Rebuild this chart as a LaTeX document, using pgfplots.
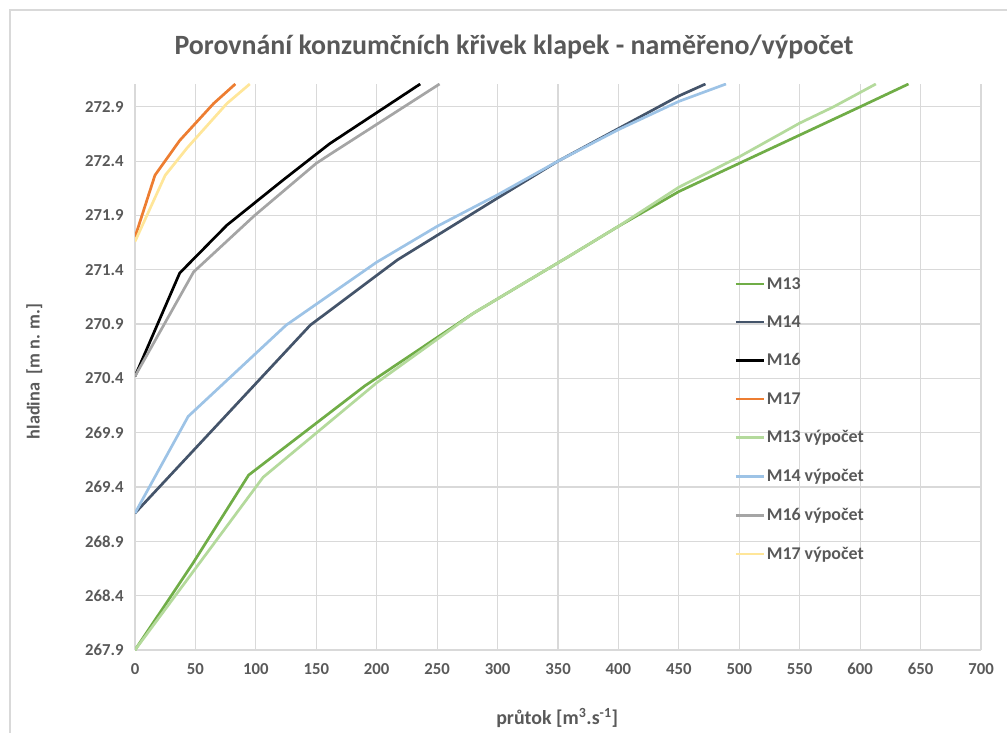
\documentclass[border=0pt]{standalone}
\usepackage{fontspec}
\setmainfont{Carlito}
\usepackage{pgfplots}
\pgfplotsset{compat=1.18}
\definecolor{txt}{HTML}{595959}
\definecolor{gridc}{HTML}{D9D9D9}
\definecolor{cA}{HTML}{70AD47}
\definecolor{cB}{HTML}{44546A}
\definecolor{cC}{HTML}{000000}
\definecolor{cD}{HTML}{ED7D31}
\definecolor{cE}{HTML}{B4DA9C}
\definecolor{cF}{HTML}{9DC3E6}
\definecolor{cG}{HTML}{A5A5A5}
\definecolor{cH}{HTML}{FFE699}
\begin{document}
\begin{tikzpicture}[x=1bp,y=1bp]
\path[use as bounding box] (0,0) rectangle (1007,-733);
\draw[gridc, line width=1.3bp] (10,-733) -- (10,-10) -- (1007,-10);
\node[txt, font=\bfseries\fontsize{28}{32}\selectfont] at (514,-47) {Porovnání konzumčních křivek klapek - naměřeno/výpočet};
\begin{axis}[
  at={(135bp,-650bp)}, anchor=south west,
  scale only axis, width=846bp, height=566bp,
  xmin=0, xmax=700, ymin=267.9, ymax=273.11,
  xtick={0,50,...,700},
  ytick={267.9,268.4,268.9,269.4,269.9,270.4,270.9,271.4,271.9,272.4,272.9},
  yticklabel style={/pgf/number format/fixed, /pgf/number format/fixed zerofill, /pgf/number format/precision=1, xshift=-8bp},
  /pgf/number format/assume math mode=true,
  tick label style={font=\bfseries\fontsize{16.8}{19}\selectfont, text=txt},
  xticklabel style={yshift=-10bp},
  major tick length=0pt,
  grid=major,
  major grid style={gridc, line width=1.2bp},
  axis line style={gridc, line width=1.2bp},
  axis x line*=bottom, axis y line*=left,
  separate axis lines,
  x axis line style={-},
  y axis line style={-},
  xlabel={průtok [m\textsuperscript{3}.s\textsuperscript{-1}]},
  ylabel={hladina\ \ [m n. m.]},
  label style={font=\bfseries\fontsize{19.5}{22}\selectfont, text=txt},
  xlabel style={at={(axis description cs:0.499,-0.12)}, anchor=center, font=\bfseries\fontsize{20}{22}\selectfont},
  ylabel style={at={(axis description cs:-0.119,0.492)}, anchor=center, font=\bfseries\fontsize{18.3}{22}\selectfont},
  legend style={at={(axis description cs:0.705,0.665)}, anchor=north west,
    draw=none, fill=none, font=\bfseries\fontsize{18}{20}\selectfont, text=txt,
    row sep=22bp, nodes={inner sep=1.5bp}},
  legend cell align=left,
  legend image code/.code={\draw[#1] (0bp,0bp) -- (28bp,0bp);},
  every axis plot/.append style={line width=2.7bp, line join=round},
  clip=true,
]
\addplot[cA] coordinates {(0,267.9) (48,268.70) (94,269.51) (190,270.33) (280,271.0) (360,271.53) (400,271.8) (450,272.12) (500,272.38) (550,272.64) (600,272.9) (640,273.11)};
\addlegendentry{M13}
\addplot[cB] coordinates {(0,269.16) (145,270.89) (217,271.49) (300,272.06) (350,272.4) (400,272.7) (450,273.0) (472,273.11)};
\addlegendentry{M14}
\addplot[cC] coordinates {(0,270.42) (37,271.37) (76,271.81) (123,272.23) (161,272.56) (236,273.11)};
\addlegendentry{M16}
\addplot[cD] coordinates {(0,271.70) (16.5,272.27) (37,272.59) (65,272.93) (83,273.11)};
\addlegendentry{M17}
\addplot[cE] coordinates {(0,267.9) (48,268.62) (106,269.49) (200,270.36) (280,271.0) (360,271.53) (400,271.8) (450,272.16) (500,272.44) (550,272.75) (578,272.9) (613,273.11)};
\addlegendentry{M13 výpočet}
\addplot[cF] coordinates {(0,269.16) (44,270.05) (125,270.89) (200,271.47) (250,271.8) (300,272.09) (350,272.4) (400,272.69) (450,272.95) (489,273.11)};
\addlegendentry{M14 výpočet}
\addplot[cG] coordinates {(0,270.42) (48.5,271.38) (99,271.9) (150,272.38) (161,272.46) (252,273.11)};
\addlegendentry{M16 výpočet}
\addplot[cH] coordinates {(0,271.66) (25,272.27) (43,272.52) (76,272.93) (95,273.11)};
\addlegendentry{M17 výpočet}
\end{axis}
\end{tikzpicture}
\end{document}
